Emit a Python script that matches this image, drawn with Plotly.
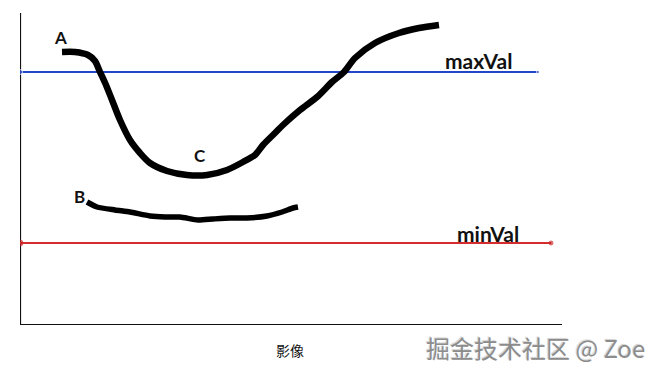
import plotly.graph_objects as go

# Coordinates: x = position along image, y = gradient strength (origin at axis corner)
curve_a_x = [42, 55, 68, 75, 80, 86, 92, 100, 110, 120, 130, 147, 167, 187, 207, 223, 235, 243, 255, 263, 280, 297, 312, 324, 335, 355, 379, 399, 419]
curve_a_y = [273, 273, 270, 264, 253, 240, 225, 205, 185, 172, 162, 154, 150, 150, 155, 163, 170, 180, 192, 200, 215, 228, 243, 253, 267, 282, 292, 297, 300]

curve_b_x = [67, 77, 95, 110, 130, 145, 160, 178, 193, 210, 227, 247, 262, 273, 278]
curve_b_y = [123, 118, 115, 113, 109, 108, 108, 105, 106, 107, 107, 109, 113, 117, 118]

axis_x_x = [0, 542]
axis_x_y = [0, 0]
axis_y_x = [0, 0]
axis_y_y = [0, 312]

max_val = 253
min_val = 82
max_line_x = [0, 518]
min_line_x = [0, 531]

labels_text = ["A", "B", "C"]
labels_x = [40, 59, 180]
labels_y = [288, 129, 170]

fig = go.Figure()

fig.add_trace(go.Scatter(x=axis_x_x, y=axis_x_y, mode="lines",
                         line=dict(color="#111111", width=2.2), hoverinfo="skip"))
fig.add_trace(go.Scatter(x=axis_y_x, y=axis_y_y, mode="lines",
                         line=dict(color="#111111", width=2.2), hoverinfo="skip"))

fig.add_trace(go.Scatter(x=max_line_x, y=[max_val, max_val], mode="lines+markers",
                         line=dict(color="#2346c8", width=2),
                         marker=dict(color="#2346c8", size=[5, 3]), hoverinfo="skip"))
fig.add_trace(go.Scatter(x=min_line_x, y=[min_val, min_val], mode="lines+markers",
                         line=dict(color="#d42c2c", width=2),
                         marker=dict(color="#c82020", size=[6, 4]), hoverinfo="skip"))

fig.add_trace(go.Scatter(x=curve_a_x, y=curve_a_y, mode="lines",
                         line=dict(color="#000000", width=6.5, shape="spline", smoothing=0.8),
                         hoverinfo="skip"))
fig.add_trace(go.Scatter(x=curve_b_x, y=curve_b_y, mode="lines",
                         line=dict(color="#000000", width=5.5, shape="spline", smoothing=0.6),
                         hoverinfo="skip"))

label_font = dict(family="Lato, Open Sans, sans-serif", size=17, color="#111111", weight="bold")
for t, x, y in zip(labels_text, labels_x, labels_y):
    fig.add_annotation(x=x, y=y, text=t, showarrow=False, font=label_font,
                       xanchor="center", yanchor="middle")

val_font = dict(family="Lato, Open Sans, sans-serif", size=21, color="#111111", weight="bold")
fig.add_annotation(x=458, y=max_val + 12, text="maxVal", showarrow=False, font=val_font,
                   xanchor="center", yanchor="middle")
fig.add_annotation(x=468, y=min_val + 10, text="minVal", showarrow=False, font=val_font,
                   xanchor="center", yanchor="middle")

fig.add_annotation(xref="x", yref="paper", x=270, y=-25 / 325, text="影像", showarrow=False,
                   font=dict(family="Noto Sans CJK SC", size=14, color="#111111"),
                   xanchor="center", yanchor="middle")

fig.add_annotation(xref="x", yref="paper", x=515, y=-22 / 325, text="掘金技术社区 @ Zoe", showarrow=False,
                   font=dict(family="Noto Sans CJK SC", size=24, color="#8c8c8c",
                             shadow="1px 1px 1px #ffffff, -1px -1px 1px #d0d0d0"),
                   xanchor="center", yanchor="middle")

fig.update_layout(
    width=664, height=373,
    margin=dict(l=20, r=0, t=0, b=48),
    paper_bgcolor="white", plot_bgcolor="white",
    showlegend=False,
    xaxis=dict(range=[0, 644], visible=False, fixedrange=True),
    yaxis=dict(range=[0, 325], visible=False, fixedrange=True),
)

fig.write_html("out.html")
